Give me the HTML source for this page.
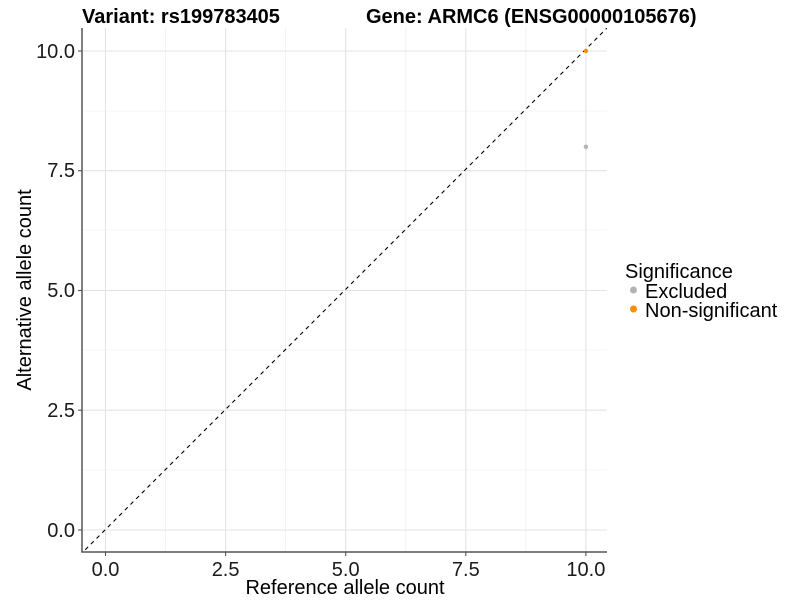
<!DOCTYPE html>
<html><head><style>body{margin:0;background:#fff}svg{display:block}text{font-family:"Liberation Sans",Arial,sans-serif}</style></head>
<body>
<svg width="800" height="600" viewBox="0 0 800 600" xmlns="http://www.w3.org/2000/svg">
<rect width="800" height="600" fill="#fff"/>
<defs><clipPath id="c"><rect x="82" y="28" width="525" height="524"/></clipPath></defs>
<g stroke="#ebebeb" stroke-width="0.6">
<line x1="82" x2="607" y1="470" y2="470"/><line x1="82" x2="607" y1="350" y2="350"/><line x1="82" x2="607" y1="230" y2="230"/><line x1="82" x2="607" y1="111" y2="111"/>
<line y1="28" y2="552" x1="165.6" x2="165.6"/><line y1="28" y2="552" x1="285.7" x2="285.7"/><line y1="28" y2="552" x1="405.8" x2="405.8"/><line y1="28" y2="552" x1="525.9" x2="525.9"/>
</g>
<g stroke="#e3e3e3" stroke-width="1.1">
<line x1="82" x2="607" y1="530" y2="530"/><line x1="82" x2="607" y1="410.2" y2="410.2"/><line x1="82" x2="607" y1="290.5" y2="290.5"/><line x1="82" x2="607" y1="170.7" y2="170.7"/><line x1="82" x2="607" y1="51" y2="51"/>
<line y1="28" y2="552" x1="105.5" x2="105.5"/><line y1="28" y2="552" x1="225.6" x2="225.6"/><line y1="28" y2="552" x1="345.7" x2="345.7"/><line y1="28" y2="552" x1="465.8" x2="465.8"/><line y1="28" y2="552" x1="585.9" x2="585.9"/>
</g>
<g clip-path="url(#c)">
<line x1="40" y1="595" x2="640" y2="-5" stroke="#000" stroke-width="1.1" stroke-dasharray="4,4"/>
<circle cx="585.9" cy="146.8" r="2.2" fill="#b3b3b3"/>
<circle cx="585.9" cy="51" r="2.2" fill="#ff8c00"/>
</g>
<g stroke="#555" stroke-width="1.5">
<line x1="82" y1="28" x2="82" y2="552.5"/><line x1="81.3" y1="552" x2="607" y2="552"/>
</g>
<g stroke="#555" stroke-width="1.1">
<line x1="78" x2="82" y1="530" y2="530"/><line x1="78" x2="82" y1="410.2" y2="410.2"/><line x1="78" x2="82" y1="290.5" y2="290.5"/><line x1="78" x2="82" y1="170.7" y2="170.7"/><line x1="78" x2="82" y1="51" y2="51"/>
<line y1="552" y2="556" x1="105.5" x2="105.5"/><line y1="552" y2="556" x1="225.6" x2="225.6"/><line y1="552" y2="556" x1="345.7" x2="345.7"/><line y1="552" y2="556" x1="465.8" x2="465.8"/><line y1="552" y2="556" x1="585.9" x2="585.9"/>
</g>
<g font-size="20" fill="#1a1a1a" text-anchor="end">
<text x="75" y="537">0.0</text><text x="75" y="417">2.5</text><text x="75" y="297">5.0</text><text x="75" y="177">7.5</text><text x="75" y="58">10.0</text>
</g>
<g font-size="20" fill="#1a1a1a" text-anchor="middle">
<text x="105.5" y="576">0.0</text><text x="225.6" y="576">2.5</text><text x="345.7" y="576">5.0</text><text x="465.8" y="576">7.5</text><text x="585.9" y="576">10.0</text>
</g>
<text x="345" y="594" font-size="20" text-anchor="middle" fill="#000">Reference allele count</text>
<text transform="translate(31,290) rotate(-90)" font-size="20" text-anchor="middle" fill="#000">Alternative allele count</text>
<text x="82" y="23" font-size="20" font-weight="bold" fill="#000">Variant: rs199783405</text>
<text x="366" y="23" font-size="20" font-weight="bold" fill="#000">Gene: ARMC6 (ENSG00000105676)</text>
<text x="625" y="278" font-size="20" fill="#000">Significance</text>
<circle cx="633.5" cy="290" r="3.5" fill="#b3b3b3"/>
<circle cx="633.5" cy="309" r="3.5" fill="#ff8c00"/>
<text x="645" y="298" font-size="20" fill="#000">Excluded</text>
<text x="645" y="317" font-size="20" fill="#000">Non-significant</text>
</svg>
</body></html>
